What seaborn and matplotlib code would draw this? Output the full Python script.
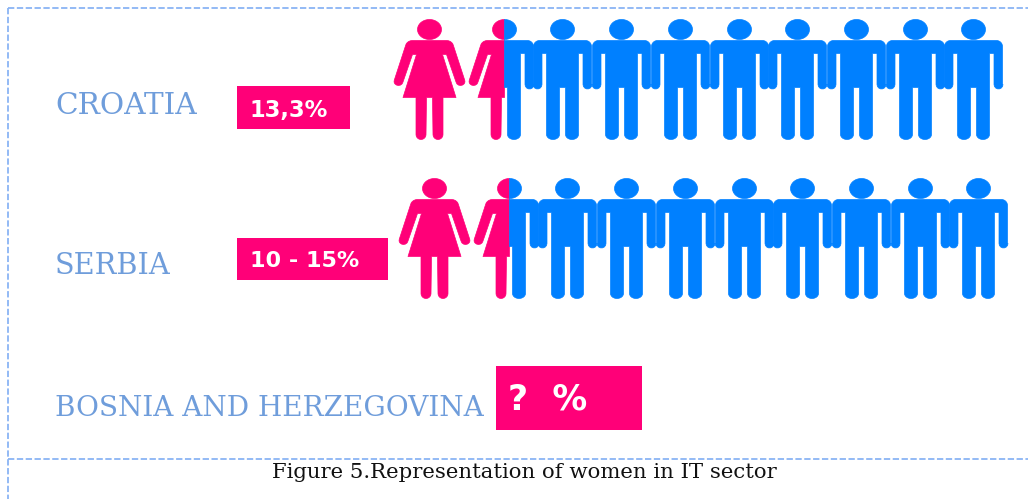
import numpy as np
import pandas as pd
import seaborn as sns
import matplotlib.pyplot as plt
from matplotlib.path import Path

countries = ['CROATIA', 'SERBIA', 'BOSNIA AND HERZEGOVINA']
share_labels = ['13,3%', '10 - 15%', '?  %']
whole_women = [1, 1]
half_women = [1, 1]
half_men = [1, 1]
whole_men = [8, 8]
caption = 'Figure 5.Representation of women in IT sector'

PINK = '#ff0078'
BLUE = '#0080ff'
LABEL = '#6f9ddb'
DASH = '#8ab4f5'


def ell(cx, cy, rx, ry, t0=0, t1=360, n=40):
    t = np.radians(np.linspace(t0, t1, n))
    return np.column_stack([cx + rx * np.cos(t), cy + ry * np.sin(t)])


def to_path(parts):
    # y is measured downward from the icon centre in the sketch, markers want it up
    verts, codes = [], []
    for p in parts:
        p = np.asarray(p, dtype=float) * [1, -1]
        verts.extend(p.tolist() + [p[0].tolist()])
        codes.extend([Path.MOVETO] + [Path.LINETO] * (len(p) - 1) + [Path.CLOSEPOLY])
    return Path(verts, codes)


# icon units are pixels, origin in the middle of the figure, head top -60, feet +60
def man_side():
    # right side of a man, from neck down to crotch
    pts = [[0, -39], [22, -39]]
    pts += ell(23, -33, 6, 6, -90, 0, 8).tolist()
    pts += [[29, 5]]
    pts += ell(25, 5, 4.5, 4.5, 0, 180, 8).tolist()
    pts += [[20.5, -26], [16, -26], [16, 55]]
    pts += ell(9.5, 55, 6.5, 5, 0, 180, 12).tolist()
    pts += [[3, 8], [0, 8]]
    return pts


def woman_side():
    pts = [[0, -39], [16, -39]]
    pts += ell(17, -33, 7, 6, -90, -10, 6).tolist()
    pts += [[35, 0]]
    pts += ell(31, 2, 4.5, 4, -20, 170, 8).tolist()
    pts += [[17, -25], [13, -25], [26.5, 18], [13.5, 18], [13.5, 55]]
    pts += ell(8.5, 55, 5, 5, 0, 180, 12).tolist()
    pts += [[3, 18], [0, 18]]
    return pts


def mirror(pts):
    return [[-x, y] for x, y in pts]


man_r = man_side()
woman_r = woman_side()
man_path = to_path([ell(0, -50, 12, 10), man_r + mirror(man_r)[::-1]])
woman_path = to_path([ell(0, -50, 12, 10), woman_r + mirror(woman_r)[::-1]])
half_man_path = to_path([ell(0, -50, 12, 10, -90, 90, 20), man_r])
half_woman_path = to_path([ell(0, -50, 12, 10, 90, 270, 20), mirror(woman_r)])

# one row per icon, slot is the place of the icon in its row
rows = []
for i in range(2):
    for k in range(whole_women[i]):
        rows.append((i, k, 'woman'))
    for k in range(half_women[i]):
        rows.append((i, whole_women[i] + k, 'half_woman'))
    for k in range(half_men[i]):
        rows.append((i, whole_women[i] + k, 'half_man'))
    for k in range(whole_men[i]):
        rows.append((i, whole_women[i] + half_men[i] + k, 'man'))
df_icons = pd.DataFrame(rows, columns=['row', 'slot', 'kind'])

row_x = [429, 434]
row_y = [79, 238]
woman_step = 74.7
man_step = 58.7


def icon_x(r):
    x0 = row_x[int(r['row'])]
    if r['kind'] in ('woman', 'half_woman'):
        return x0 + r['slot'] * woman_step
    return x0 + woman_step + (r['slot'] - 1) * man_step


df_icons['x'] = df_icons.apply(icon_x, axis=1)
df_icons['y'] = df_icons['row'].map(lambda r: row_y[r])

sns.set_theme(style="white")
f, ax = plt.subplots(figsize=(10.28, 4.99), dpi=100)
f.subplots_adjust(0, 0, 1, 1)

styles = {'woman': (woman_path, PINK), 'half_woman': (half_woman_path, PINK),
          'man': (man_path, BLUE), 'half_man': (half_man_path, BLUE)}
# height of 120 px in points, squared
s = (120 * 72 / 100) ** 2
for kind, (marker, color) in styles.items():
    sns.scatterplot(data=df_icons[df_icons['kind'] == kind], x='x', y='y', marker=marker,
                    color=color, s=s, edgecolor=color, linewidth=0.5, joinstyle='round',
                    ax=ax, legend=False, zorder=3)

ax.set_xlim(0, 1028)
ax.set_ylim(499, 0)
ax.axis('off')

# dashed frame, no line on the right side
line = dict(color=DASH, lw=1.3, ls=(0, (3.5, 1.4)))
ax.plot([8, 1028], [8, 8], **line)
ax.plot([8, 1028], [459, 459], **line)
ax.plot([8, 8], [8, 499], **line)

# country names
label_y = [106, 266, 408]
label_sizes = [21.3, 20.7, 20.1]
for name, y, fs in zip(countries, label_y, label_sizes):
    ax.text(55, y, name, color=LABEL, family='DejaVu Serif', fontsize=fs, va='center', ha='left')

# pink boxes
boxes = [(237, 86, 113, 43), (237, 238, 151, 42), (496, 366, 146, 64)]
text_x = [250, 250, 508]
text_y = [110, 261, 400]
sizes = [16.3, 16, 25]
for (x, y, w, h), label, tx, ty, fs in zip(boxes, share_labels, text_x, text_y, sizes):
    ax.add_patch(plt.Rectangle((x, y), w, h, color=PINK, lw=0, zorder=2))
    ax.text(tx, ty, label, color='white', weight='bold', family='DejaVu Sans',
            fontsize=fs, va='center', ha='left', zorder=4)

ax.text(272, 472, caption, color='#111111', family='DejaVu Serif', fontsize=15.3,
        va='center', ha='left')

f.savefig('out.png', dpi=100)
